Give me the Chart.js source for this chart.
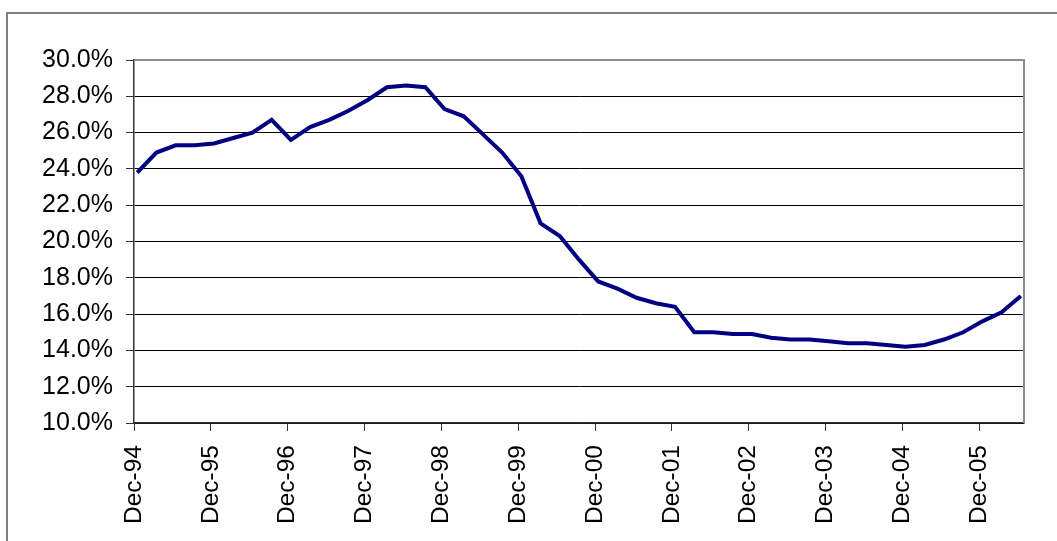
<!DOCTYPE html>
<html>
<head>
<meta charset="utf-8">
<script src="https://cdn.jsdelivr.net/npm/chart.js@4.4.1/dist/chart.umd.min.js"></script>
<style>
  html, body { margin: 0; padding: 0; background: #fff; overflow: hidden; }
  #wrap { position: relative; width: 1057px; height: 541px; }
</style>
</head>
<body>
<div id="wrap"><canvas id="ratio-chart" width="1057" height="541"></canvas></div>
<script>
// Kvartal, från Dec-94 till Jun-06
const quarters = [
  'Dec-94', 'Mar-95', 'Jun-95', 'Sep-95', 'Dec-95', 'Mar-96', 'Jun-96', 'Sep-96',
  'Dec-96', 'Mar-97', 'Jun-97', 'Sep-97', 'Dec-97', 'Mar-98', 'Jun-98', 'Sep-98',
  'Dec-98', 'Mar-99', 'Jun-99', 'Sep-99', 'Dec-99', 'Mar-00', 'Jun-00', 'Sep-00',
  'Dec-00', 'Mar-01', 'Jun-01', 'Sep-01', 'Dec-01', 'Mar-02', 'Jun-02', 'Sep-02',
  'Dec-02', 'Mar-03', 'Jun-03', 'Sep-03', 'Dec-03', 'Mar-04', 'Jun-04', 'Sep-04',
  'Dec-04', 'Mar-05', 'Jun-05', 'Sep-05', 'Dec-05', 'Mar-06', 'Jun-06'
];

// Värden i procent
const values = [
  23.8, 24.9, 25.3, 25.3, 25.4, 25.7, 26.0, 26.7,
  25.6, 26.3, 26.7, 27.2, 27.8, 28.5, 28.6, 28.5,
  27.3, 26.9, 25.9, 24.9, 23.6, 21.0, 20.3, 19.0,
  17.8, 17.4, 16.9, 16.6, 16.4, 15.0, 15.0, 14.9,
  14.9, 14.7, 14.6, 14.6, 14.5, 14.4, 14.4, 14.3,
  14.2, 14.3, 14.6, 15.0, 15.6, 16.1, 17.0
];

// Etiketter på x-axeln (en per år)
const xTickLabels = [
  'Dec-94', 'Dec-95', 'Dec-96', 'Dec-97', 'Dec-98', 'Dec-99',
  'Dec-00', 'Dec-01', 'Dec-02', 'Dec-03', 'Dec-04', 'Dec-05'
];

const yMin = 10, yMax = 30, yStep = 2;

// x räknas i månader från början av Dec-94, punkterna ligger mitt i månaden
const MONTHS_PER_QUARTER = 3;
const MID_MONTH = 0.5;
const AXIS_END_MONTH = 139;

const points = values.map((v, i) => ({ x: i * MONTHS_PER_QUARTER + MID_MONTH, y: v }));

const FONT_FAMILY = '"Liberation Sans", Arial, sans-serif';

// Ram runt hela diagrammet och grå kant runt plotytan
const framePlugin = {
  id: 'frame',
  beforeDraw(chart) {
    const ctx = chart.ctx;
    ctx.save();
    ctx.fillStyle = '#fff';
    ctx.fillRect(0, 0, chart.width, chart.height);
    ctx.strokeStyle = '#808080';
    ctx.lineWidth = 2;
    ctx.strokeRect(7, 13, chart.width + 20, chart.height + 20);
    ctx.restore();
  },
  beforeDatasetsDraw(chart) {
    const { ctx, chartArea: a } = chart;
    ctx.save();
    ctx.strokeStyle = '#8c8c8c';
    ctx.lineWidth = 2;
    ctx.beginPath();
    ctx.moveTo(a.left, a.top);
    ctx.lineTo(a.right, a.top);
    ctx.lineTo(a.right, a.bottom);
    ctx.stroke();
    ctx.restore();
  }
};

new Chart(document.getElementById('ratio-chart'), {
  type: 'line',
  data: {
    datasets: [{
      label: 'Andel',
      data: points,
      borderColor: '#000080',
      borderWidth: 4,
      pointRadius: 0,
      tension: 0,
      fill: false
    }]
  },
  options: {
    responsive: false,
    animation: false,
    devicePixelRatio: 1,
    layout: { padding: { left: 0, top: 60, right: 33, bottom: 0 } },
    plugins: { legend: { display: false }, tooltip: { enabled: false } },
    scales: {
      x: {
        type: 'linear',
        min: 0,
        max: AXIS_END_MONTH,
        afterBuildTicks: scale => {
          scale.ticks = xTickLabels.map((_, i) => ({ value: i * 12 }));
        },
        afterFit: scale => { scale.height = 118; },
        ticks: {
          color: '#000',
          font: { family: FONT_FAMILY, size: 24.5 },
          padding: 14,
          autoSkip: false,
          minRotation: 90,
          maxRotation: 90,
          callback: value => xTickLabels[Math.round(value / 12)]
        },
        grid: {
          drawOnChartArea: false,
          drawTicks: true,
          tickLength: 8,
          color: '#333'
        },
        border: { color: '#333', width: 1.5 }
      },
      y: {
        min: yMin,
        max: yMax,
        afterFit: scale => { scale.width = 134; },
        ticks: {
          stepSize: yStep,
          color: '#000',
          font: { family: FONT_FAMILY, size: 25 },
          padding: 13,
          callback: value => value.toFixed(1) + '%'
        },
        grid: {
          color: ctx => (ctx.tick && ctx.tick.value === yMax) ? 'rgba(0,0,0,0)' : '#000',
          lineWidth: 1,
          tickLength: 8,
          tickColor: '#333',
          drawTicks: true
        },
        border: { color: '#333', width: 1.5 }
      }
    }
  },
  plugins: [framePlugin]
});
</script>
</body>
</html>
